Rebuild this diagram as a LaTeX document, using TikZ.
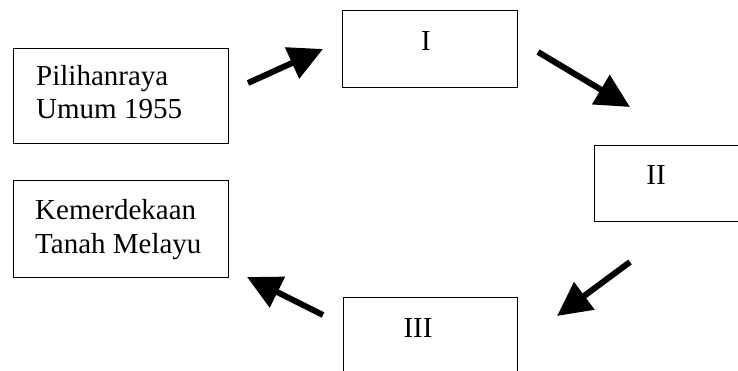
\documentclass[tikz,border=0pt]{standalone}
\usepackage{fontspec}
\setmainfont{Liberation Serif}
\usetikzlibrary{arrows.meta}

\begin{document}
\begin{tikzpicture}[x=1pt,y=-1pt,
  kotak/.style={draw=black,line width=0.9pt,inner sep=0pt},
  tulis/.style={inner sep=0pt,font=\fontsize{29}{33}\selectfont},
  panah/.style={draw=black,line width=6pt,-{Triangle[length=34pt,width=33pt]}}]

\clip (0,0) rectangle (738,371);

% kotak
\node[kotak,minimum width=215pt,minimum height=95pt] (pilihanraya) at (120.5,95.5) {};
\node[kotak,minimum width=215pt,minimum height=97pt] (merdeka) at (120.5,228.5) {};
\node[kotak,minimum width=175pt,minimum height=77pt] (satu) at (430,48.5) {};
\node[kotak,minimum width=160pt,minimum height=76pt] (dua) at (674,183) {};
\node[kotak,minimum width=174pt,minimum height=90pt] (tiga) at (430,342) {};

% tulisan
\node[tulis,anchor=base west] (pilihanA) at (36,86) {Pilihanraya};
\node[tulis,anchor=base west] (pilihanB) at (36,119) {Umum 1955};
\node[tulis,anchor=base west] (merdekaA) at (35,220) {Kemerdekaan};
\node[tulis,anchor=base west] (merdekaB) at (35,253) {Tanah Melayu};
\node[tulis,anchor=base] (satuT) at (426,51) {I};
\node[tulis,anchor=base] (duaT) at (656,185) {II};
\node[tulis,anchor=base] (tigaT) at (418,337) {III};

% hujung anak panah
\coordinate (p1a) at (248,83);
\coordinate (p1b) at (323,49);
\coordinate (p2a) at (538,52);
\coordinate (p2b) at (630,107);
\coordinate (p3a) at (630,262);
\coordinate (p3b) at (557,316);
\coordinate (p4a) at (323,315);
\coordinate (p4b) at (247,277);

\draw[panah] (p1a) -- (p1b);
\draw[panah] (p2a) -- (p2b);
\draw[panah] (p3a) -- (p3b);
\draw[panah] (p4a) -- (p4b);

\end{tikzpicture}
\end{document}
